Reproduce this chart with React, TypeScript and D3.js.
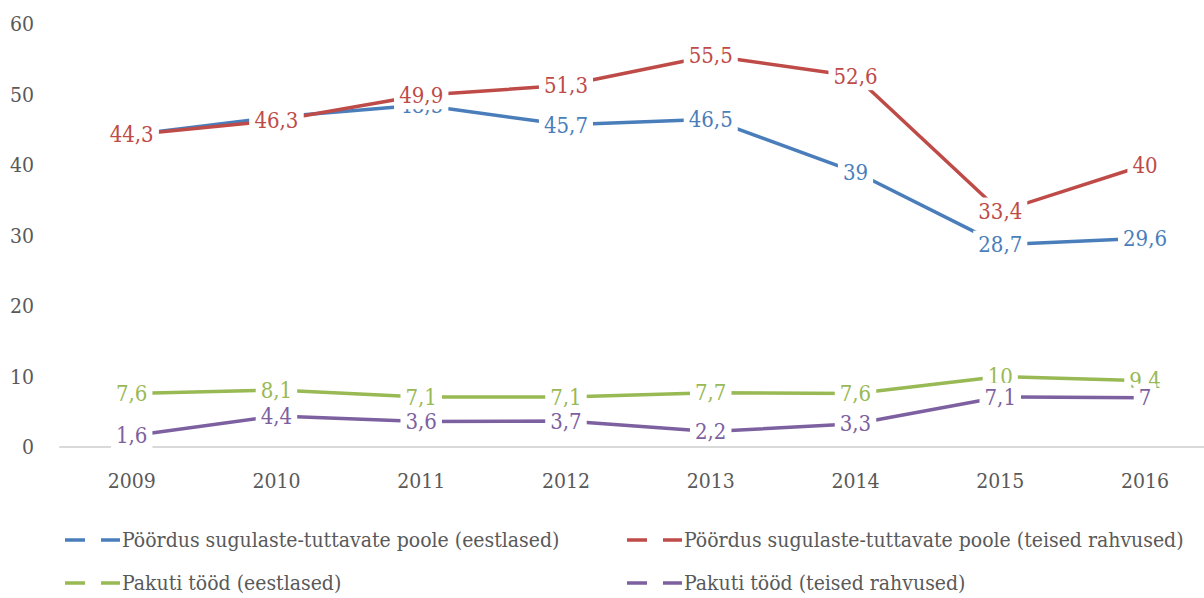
import React, { useEffect, useRef } from 'react';
import * as d3 from 'd3';

const years = ['2009', '2010', '2011', '2012', '2013', '2014', '2015', '2016'];
const yTicks = [0, 10, 20, 30, 40, 50, 60];

const relativesEst = [44.3, 46.8, 48.5, 45.7, 46.5, 39, 28.7, 29.6];
const relativesOther = [44.3, 46.3, 49.9, 51.3, 55.5, 52.6, 33.4, 40];
const jobEst = [7.6, 8.1, 7.1, 7.1, 7.7, 7.6, 10, 9.4];
const jobOther = [1.6, 4.4, 3.6, 3.7, 2.2, 3.3, 7.1, 7];

const seriesNames = [
    'Pöördus sugulaste-tuttavate poole (eestlased)',
    'Pöördus sugulaste-tuttavate poole (teised rahvused)',
    'Pakuti tööd (eestlased)',
    'Pakuti tööd (teised rahvused)',
];

const colors = ['#4A7EBB', '#BE4B48', '#98B954', '#7D60A0'];

const FONT = "'DejaVu Serif Condensed', 'DejaVu Serif', serif";

const App = () => {
    const svgRef = useRef<SVGSVGElement>(null);

    useEffect(() => {
        const width = 1204;
        const height = 598;
        const svg = d3.select(svgRef.current)
            .attr('width', width)
            .attr('height', height)
            .style('font-family', FONT)
            .style('font-stretch', 'condensed');

        svg.selectAll('*').remove();

        const series = [relativesEst, relativesOther, jobEst, jobOther].map((values, i) => ({
            name: seriesNames[i],
            color: colors[i],
            values,
        }));

        const x = d3.scaleBand()
            .domain(years)
            .range([59.3, 1217.4]);

        const y = d3.scaleLinear()
            .domain([0, 60])
            .range([447, 24]);

        const cx = (d: string) => (x(d) as number) + x.bandwidth() / 2;

        // baseline
        svg.append('line')
            .attr('x1', x.range()[0])
            .attr('x2', x.range()[1])
            .attr('y1', y(0))
            .attr('y2', y(0))
            .attr('stroke', '#d9d9d9')
            .attr('stroke-width', 2);

        // y tick labels
        svg.append('g')
            .selectAll('text')
            .data(yTicks)
            .join('text')
            .attr('x', 34)
            .attr('y', d => y(d))
            .attr('dy', '0.35em')
            .attr('text-anchor', 'end')
            .attr('font-size', 21)
            .attr('fill', '#595959')
            .text(d => d);

        // x tick labels
        svg.append('g')
            .selectAll('text')
            .data(years)
            .join('text')
            .attr('x', d => cx(d))
            .attr('y', 488)
            .attr('text-anchor', 'middle')
            .attr('font-size', 21)
            .attr('fill', '#595959')
            .text(d => d);

        const line = d3.line<number>()
            .x((_, i) => cx(years[i]))
            .y(d => y(d));

        svg.append('g')
            .selectAll('path')
            .data(series)
            .join('path')
            .attr('d', d => line(d.values))
            .attr('fill', 'none')
            .attr('stroke', d => d.color)
            .attr('stroke-width', 3.5)
            .attr('stroke-linejoin', 'round');

        // data labels with white boxes
        series.forEach(s => {
            const g = svg.append('g');
            s.values.forEach((v, i) => {
                const lg = g.append('g');
                const rect = lg.append('rect').attr('fill', 'white');
                const t = lg.append('text')
                    .attr('x', cx(years[i]))
                    .attr('y', y(v))
                    .attr('dy', '0.35em')
                    .attr('text-anchor', 'middle')
                    .attr('font-size', 22)
                    .attr('fill', s.color)
                    .text(String(v).replace('.', ','));
                const bb = (t.node() as SVGTextElement).getBBox();
                rect.attr('x', bb.x - 5)
                    .attr('y', y(v) - 14)
                    .attr('width', bb.width + 10)
                    .attr('height', 28);
            });
        });

        // legend
        const legendPos = [
            { x: 65, y: 540 },
            { x: 627, y: 540 },
            { x: 65, y: 583 },
            { x: 627, y: 583 },
        ];
        const legend = svg.append('g')
            .selectAll('g')
            .data(series)
            .join('g')
            .attr('transform', (_, i) => `translate(${legendPos[i].x}, ${legendPos[i].y})`);

        legend.append('line')
            .attr('x1', 0)
            .attr('x2', 55)
            .attr('stroke', d => d.color)
            .attr('stroke-width', 3.5)
            .attr('stroke-dasharray', '20 16');

        legend.append('text')
            .attr('x', 57)
            .attr('dy', '0.35em')
            .attr('font-size', 21)
            .attr('fill', '#595959')
            .text(d => d.name);
    }, []);

    return <svg ref={svgRef} style={{ position: 'absolute', left: 0, top: 0 }}></svg>;
};

export default App;
